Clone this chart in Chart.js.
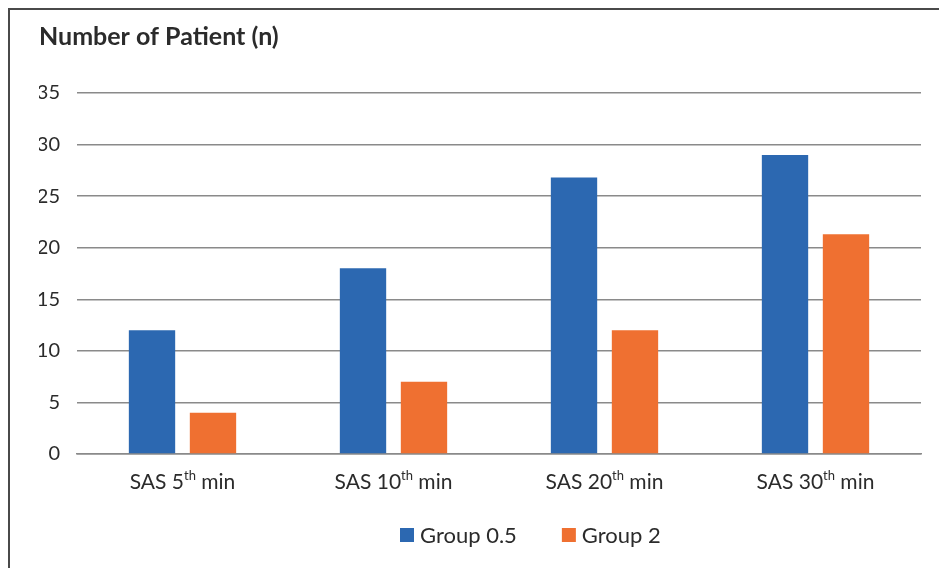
<!DOCTYPE html>
<html>
<head>
<meta charset="utf-8">
<script src="https://cdn.jsdelivr.net/npm/chart.js@4.4.0/dist/chart.umd.min.js"></script>
<style>
	html, body { margin: 0; padding: 0; background: #fff; }
	#wrap { position: relative; width: 939px; height: 568px; overflow: hidden; }
	#frame { position: absolute; left: 8px; top: 8px; width: 940px; height: 570px;
		border-left: 2px solid #4a4a4a; border-top: 2px solid #4a4a4a; pointer-events: none; }
	canvas { position: absolute; left: 0; top: 0; }
</style>
</head>
<body>
<div id="wrap">
	<canvas id="barChart" width="939" height="568"></canvas>
	<div id="frame"></div>
</div>
<script>
let categories = ['SAS 5th min', 'SAS 10th min', 'SAS 20th min', 'SAS 30th min'];
let group05 = [12, 18, 26.8, 29];
let group2 = [4, 7, 12, 21.3];
let seriesNames = ['Group 0.5', 'Group 2'];
let yTicks = [0, 5, 10, 15, 20, 25, 30, 35];

let fontFamily = 'Lato, "Open Sans", sans-serif';
let textColor = '#2b2b2b';

// x labels with a raised "th", drawn at the category scale positions
let supLabels = {
	id: 'supLabels',
	afterDraw(chart) {
		let ctx = chart.ctx;
		let xScale = chart.scales.x;
		ctx.save();
		ctx.fillStyle = textColor;
		ctx.textBaseline = 'alphabetic';
		ctx.textAlign = 'left';
		let y = xScale.top + 35;
		categories.forEach(function (label, i) {
			let m = label.match(/^(.*?\d+)(th)(.*)$/);
			let parts = m ? [[m[1], 21, 0], [m[2], 13, -9], [m[3], 21, 0]] : [[label, 21, 0]];
			let total = 0;
			parts.forEach(function (p) {
				ctx.font = p[1] + 'px ' + fontFamily;
				total += ctx.measureText(p[0]).width;
			});
			let x = xScale.getPixelForValue(i) - total / 2;
			parts.forEach(function (p) {
				ctx.font = p[1] + 'px ' + fontFamily;
				ctx.fillText(p[0], x, y + p[2]);
				x += ctx.measureText(p[0]).width;
			});
		});
		ctx.restore();
	}
};

// legend in the bottom band, square markers
let squareLegend = {
	id: 'squareLegend',
	afterDraw(chart) {
		let ctx = chart.ctx;
		ctx.save();
		ctx.font = '22px ' + fontFamily;
		ctx.textBaseline = 'middle';
		ctx.textAlign = 'left';
		let x = 400;
		let y = 535;
		chart.data.datasets.forEach(function (ds) {
			ctx.fillStyle = ds.backgroundColor;
			ctx.fillRect(x, y - 7, 14, 14);
			ctx.fillStyle = textColor;
			ctx.fillText(ds.label, x + 20, y + 1);
			x += 20 + ctx.measureText(ds.label).width + 45;
		});
		ctx.restore();
	}
};

let data = {
	labels: categories,
	datasets: [{
		label: seriesNames[0],
		backgroundColor: '#2C68B1',
		data: group05
	}, {
		label: seriesNames[1],
		backgroundColor: '#EF7031',
		data: group2
	}]
};

let options = {
	responsive: false,
	animation: false,
	layout: {
		padding: { left: 39, right: 18, top: 8, bottom: 74 }
	},
	datasets: {
		bar: {
			categoryPercentage: 0.578,
			barPercentage: 0.76
		}
	},
	plugins: {
		legend: { display: false },
		tooltip: { enabled: false },
		title: {
			display: true,
			text: 'Number of Patient (n)',
			align: 'start',
			color: textColor,
			font: { family: fontFamily, size: 25, weight: 'bold' },
			padding: { top: 14, bottom: 41 }
		}
	},
	scales: {
		y: {
			min: 0,
			max: 35,
			afterBuildTicks: function (scale) {
				scale.ticks = yTicks.map(function (v) { return { value: v }; });
			},
			afterFit: function (scale) {
				scale.width = 38;
			},
			border: { display: false },
			grid: { color: '#8a8a8a', lineWidth: 1.5, drawTicks: false },
			ticks: {
				color: textColor,
				padding: 17,
				font: { family: fontFamily, size: 20 }
			}
		},
		x: {
			afterFit: function (scale) {
				scale.height = 40;
			},
			border: { display: true, color: '#8a8a8a', width: 1.5 },
			grid: { display: false, drawTicks: false },
			ticks: {
				color: 'rgba(0,0,0,0)',
				padding: 14,
				font: { family: fontFamily, size: 20 }
			}
		}
	}
};

new Chart('barChart', {
	type: 'bar',
	data: data,
	options: options,
	plugins: [supLabels, squareLegend]
});
</script>
</body>
</html>
